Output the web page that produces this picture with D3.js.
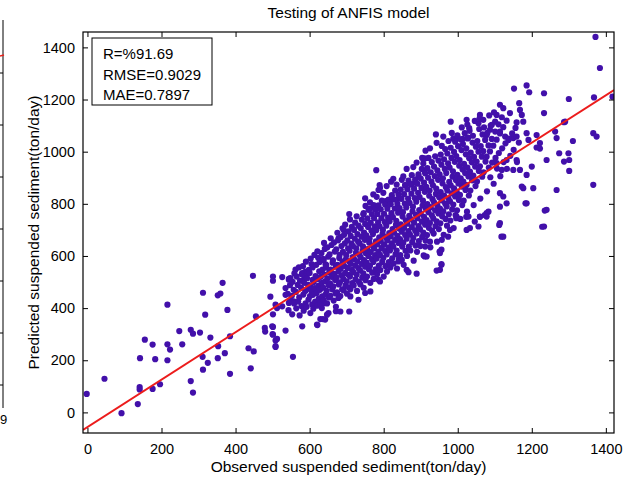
<head>
    <meta charset="utf-8">
    <style>
        body { margin: 0; background: #ffffff; }
        text { font-family: "Liberation Sans", Arial, Helvetica, sans-serif; fill: #000; }
    </style>
    <script src="https://d3js.org/d3.v7.min.js"></script>
</head>
<body>
<div id="chart"></div>
<script>

var chartTitle = "Testing of ANFIS model";
var xLabel = "Observed suspended sediment(ton/day)";
var yLabel = "Predicted suspended sediment(ton/day)";
var statLines = ["R=%91.69", "RMSE=0.9029", "MAE=0.7897"];

var xTicks = [0, 200, 400, 600, 800, 1000, 1200, 1400];
var yTicks = [0, 200, 400, 600, 800, 1000, 1200, 1400];
var xLimits = [-12, 1422];
var yLimits = [-79, 1459];

// fitted line: predicted = slope * observed + intercept
var fitSlope = 0.909;
var fitIntercept = -56;

// sparse points, lower left part of the cloud
var sparsePoints = [
    [-2,71],[46,129],[92,-3],[136,32],[141,97],[141,88],[176,90],[196,108],[142,208],[155,279],
    [176,260],[183,204],[216,261],[223,241],[216,200],[216,413],[256,261],[248,312],[279,317],[285,302],
    [304,306],[332,287],[312,459],[318,375],[352,449],[359,456],[365,497],[378,393],[311,213],[325,190],
    [312,164],[279,120],[285,76],[352,208],[353,254],[371,227],[385,292],[385,148],[441,169],[435,246],
    [449,234],[455,368],[447,524],[501,521],[501,505],[494,444],[479,324],[480,310],[501,376],[501,328],
    [508,251],[508,276],[500,300],
    [526,519],[544,509],[548,515],[535,477],[535,451],[580,534],[589,540],[584,509],[508,413],[512,400],
    [526,407],[544,420],[557,426],[499,330],[501,298],[535,314],[512,282],[508,254],[555,213],[580,330],
    [620,337],[642,356],[651,381],[671,388],[671,405]
];

// outer edge of the main cloud
var edgePoints = [
    [780,929],[904,976],[911,974],[910,927],[894,904],[820,885],[789,872],[786,853],[858,872],[876,876],
    [885,882],[750,821],[707,761],[746,764],[764,783],[773,795],[805,810],[818,815],[841,820],[689,706],
    [692,700],[678,668],[638,585],[643,568],
    [862,547],[889,532],[840,579],[849,585],[786,509],[790,502],[764,464],[750,458],[732,432],[710,445],
    [678,439],[683,387],[707,387],[638,419],[633,400],[647,375],[629,358],[636,358],[621,335],
    [956,566],[943,544],[867,538],[911,598],[952,611],[956,624],[1183,802],[1235,774],[1228,712],[1112,719],
    [1118,674],[1024,700],[1046,732],[974,674],[956,569],[952,547],[1073,757],[1078,764],[1060,750],[996,745],
    [1023,750],
    [1372,1440],[1384,1321],[1418,1211],[1368,1208],[1300,1202],[1287,1113],[1233,1224],[1233,1148],[1186,1254],[1193,1228],
    [1152,1242],[1166,1186],[1168,1160],[1173,1141],[1177,1115],[1114,1180],[1123,1167],[1105,1141],[1101,1115],[1060,1141],
    [1069,1122],[1056,1109],[1024,1122],[1031,1090],[981,1115],[941,1066],[988,1050],[1000,1052],[1014,1049],[1027,1051],
    [1087,1084],[1092,1103],[1078,1064],[1114,1077],[1128,1058],[1137,1045],[1150,1052],[1159,1058],[1186,1071],[1191,1045],
    [1213,1064],[1222,1033],[1263,1077],[1267,1052],[1290,1115],[1311,1041],[1366,1071],[1375,1058],[1366,873],[1267,853],
    [1240,777],[1233,713],[1114,726],[1123,674],[1186,802],[1240,968],[1213,1016],[1222,1012],[1274,994],[1299,994],
    [1301,968],[1287,962],[1301,926],[1204,860],[1177,860],[1173,866],[1200,943],[1186,911],[1168,930],[1159,968],
    [1150,930],[1132,968],[1119,930],[1105,956],[1114,841],[1123,828],[1132,802],[1114,789],[1083,770],[1078,751],
    [1060,751],[1056,713],[1033,707],[1029,751],[997,751],[979,700],[957,662],[951,617],[925,655],[912,636],
    [916,598]
];

// dense core of the cloud
var corePoints = [
    [543,392],[548,430],[541,455],[547,488],[544,512],
    [553,376],[558,418],[552,447],[557,470],[554,501],[559,533],
    [564,399],[569,425],[563,462],[568,489],[565,521],[562,548],
    [573,372],[578,408],[572,441],[577,478],[574,505],[579,530],[571,556],
    [584,390],[589,418],[583,452],[588,466],[585,497],[590,522],[582,561],
    [592,405],[597,433],[591,470],[596,489],[593,515],[598,547],[590,578],
    [602,381],[607,414],[601,446],[606,462],[603,481],[608,508],[600,535],[605,569],[603,590],
    [610,398],[615,425],[609,451],[614,477],[611,500],[616,523],[608,556],[613,604],
    [620,409],[625,437],[619,458],[624,486],[621,512],[626,541],[618,566],[623,593],[621,618],
    [629,420],[634,445],[628,470],[633,497],[630,520],[635,548],[627,577],[632,611],
    [638,430],[643,452],[637,478],[642,503],[639,529],[644,556],[636,589],[641,627],[639,650],
    [647,418],[652,441],[646,466],[651,489],[648,514],[653,538],[645,565],[650,597],[648,633],
    [656,447],[661,472],[655,495],[660,520],[657,548],[662,574],[654,606],[659,642],[657,668],
    [665,429],[670,456],[664,483],[669,508],[666,531],[671,559],[663,583],[668,617],[666,652],
    [674,460],[679,491],[673,517],[678,540],[675,566],[680,592],[672,625],[677,660],[675,689],
    [683,446],[688,472],[682,499],[687,526],[684,551],[689,578],[681,604],[686,638],[684,672],
    [692,468],[697,487],[691,512],[696,535],[693,562],[698,587],[690,616],[695,648],[693,681],[696,720],
    [701,455],[706,480],[700,503],[705,528],[702,554],[707,579],[699,603],[704,629],[702,660],[705,694],
    [710,472],[715,496],[709,521],[714,547],[711,570],[716,596],[708,620],[713,647],[711,677],[714,712],[709,740],
    [719,487],[724,510],[718,538],[723,563],[720,588],[725,612],[717,638],[722,666],[720,700],[723,728],
    [728,466],[733,501],[727,529],[732,553],[729,579],[734,605],[726,629],[731,655],[729,684],[732,716],[727,752],
    [737,491],[742,517],[736,545],[741,570],[738,596],[743,621],[735,648],[740,674],[738,706],[741,739],
    [746,478],[751,507],[745,533],[750,559],[747,584],[752,610],[744,637],[749,662],[747,690],[750,723],[745,760],[751,792],
    [755,521],[760,549],[754,575],[759,600],[756,626],[761,651],[753,679],[758,711],[756,744],[759,777],
    [764,497],[769,536],[763,562],[768,588],[765,615],[770,640],[762,667],[767,697],[765,727],[768,761],[763,806],
    [773,512],[778,549],[772,577],[777,603],[774,629],[779,656],[771,684],[776,714],[774,745],[777,778],[772,836],
    [782,530],[787,563],[781,590],[786,617],[783,644],[788,671],[780,699],[785,729],[783,761],[786,794],[781,827],
    [791,546],[796,577],[790,604],[795,631],[792,658],[797,685],[789,714],[794,745],[792,779],[795,812],[790,861],
    [800,521],[805,561],[799,592],[804,619],[801,645],[806,672],[798,700],[803,730],[801,762],[804,797],[799,842],
    [809,540],[814,576],[808,606],[813,633],[810,660],[815,688],[807,716],[812,747],[810,781],[813,816],[808,868],
    [818,556],[823,591],[817,621],[822,648],[819,675],[824,703],[816,733],[821,764],[819,798],[822,833],
    [827,571],[832,606],[826,636],[831,662],[828,690],[833,719],[825,749],[830,782],[828,817],[831,851],[826,896],
    [836,552],[841,588],[835,621],[840,650],[837,677],[842,705],[834,735],[839,766],[837,800],[840,836],[835,874],
    [845,603],[850,636],[844,665],[849,693],[846,721],[851,751],[843,784],[848,819],[846,855],[849,892],
    [854,566],[859,620],[853,651],[858,680],[855,708],[860,737],[852,768],[857,801],[855,837],[858,871],[853,905],
    [863,600],[868,636],[862,666],[867,695],[864,724],[869,754],[861,786],[866,820],[864,856],[867,889],[862,934],
    [872,621],[877,653],[871,682],[876,711],[873,741],[878,771],[870,804],[875,839],[873,874],[876,910],
    [881,582],[886,640],[880,669],[885,698],[882,728],[887,758],[879,789],[884,822],[882,858],[885,893],[880,941],
    [890,616],[895,657],[889,686],[894,715],[891,745],[896,776],[888,808],[893,842],[891,877],[894,913],[889,958],
    [899,638],[904,673],[898,703],[903,732],[900,762],[905,793],[897,826],[902,861],[900,897],[903,934],
    [908,602],[913,659],[907,690],[912,720],[909,750],[914,781],[906,812],[911,846],[909,881],[912,917],[907,955],[913,1004],
    [917,680],[922,708],[916,738],[921,768],[918,799],[923,831],[915,865],[920,900],[918,937],[921,976],
    [926,633],[931,697],[925,726],[930,756],[927,787],[932,818],[924,851],[929,885],[927,921],[930,960],[925,1013],
    [935,686],[940,715],[934,744],[939,775],[936,806],[941,838],[933,871],[938,906],[936,943],[939,982],
    [944,655],[949,703],[943,733],[948,763],[945,794],[950,825],[942,858],[947,892],[945,928],[948,966],[943,1034],
    [953,725],[958,752],[952,782],[957,813],[954,845],[959,878],[951,913],[956,950],[954,989],[957,1022],
    [962,681],[967,742],[961,771],[966,801],[963,832],[968,864],[960,898],[965,934],[963,971],[966,1010],[961,1058],
    [971,716],[976,760],[970,790],[975,820],[972,851],[977,884],[969,918],[974,955],[972,993],[975,1041],
    [980,736],[985,779],[979,809],[984,840],[981,871],[986,904],[978,939],[983,976],[981,1015],[984,1072],
    [989,707],[994,757],[988,797],[993,828],[990,859],[995,891],[987,925],[992,961],[990,999],[993,1038],
    [998,775],[1003,815],[997,847],[1002,878],[999,911],[1004,946],[996,983],[1001,1021],[999,1063],
    [1007,742],[1012,795],[1006,834],[1011,866],[1008,898],[1013,932],[1005,968],[1010,1006],[1008,1047],[1011,1093],
    [1016,812],[1021,853],[1015,885],[1020,918],[1017,953],[1022,990],[1014,1029],[1019,1071],
    [1025,770],[1030,832],[1024,872],[1029,905],[1026,939],[1031,975],[1023,1013],[1028,1054],[1026,1104],
    [1034,851],[1039,890],[1033,924],[1038,959],[1035,996],[1040,1035],[1032,1080],
    [1043,795],[1048,868],[1042,908],[1047,943],[1044,980],[1049,1019],[1041,1061],[1046,1118],
    [1052,886],[1057,926],[1051,962],[1056,1000],[1053,1041],[1058,1087],
    [1061,820],[1066,904],[1060,944],[1065,981],[1062,1021],[1067,1066],[1059,1128],
    [1070,921],[1075,962],[1069,1002],[1074,1045],[1071,1093],
    [1079,848],[1084,939],[1078,981],[1083,1024],[1080,1072],[1085,1139],
    [1088,902],[1093,958],[1087,1001],[1092,1049],[1089,1100],
    [1097,877],[1102,976],[1096,1023],[1101,1077],[1098,1151],
    [1106,935],[1111,995],[1105,1046],[1110,1105],
    [1115,906],[1120,1013],[1114,1070],[1119,1132],
    [1124,960],[1129,1032],[1123,1094],
    [1133,934],[1138,1050],[1132,1119],
    [1142,984],[1147,1070],[1141,1148],
    [1151,1007],[1156,1091],
    [1160,960],[1165,1035],[1159,1112]
];

var W = 634, H = 477;
var plot = { left: 83, right: 614, top: 32, bottom: 433 };

var svg = d3.select("#chart").append("svg")
    .attr("width", W)
    .attr("height", H);

var x = d3.scaleLinear().domain(xLimits).range([plot.left, plot.right]);
var y = d3.scaleLinear().domain(yLimits).range([plot.bottom, plot.top]);

// cut-off neighbour panel on the far left
var leftStub = svg.append("g");
leftStub.append("line")
    .attr("x1", 3).attr("x2", 3).attr("y1", 20).attr("y2", 408)
    .attr("stroke", "#000").attr("stroke-width", 1);
[73, 125, 177, 229, 281, 333, 385].forEach(function(t) {
    leftStub.append("line")
        .attr("x1", 0).attr("x2", 3).attr("y1", t).attr("y2", t)
        .attr("stroke", "#000");
});
leftStub.append("line")
    .attr("x1", 0).attr("x2", 4).attr("y1", 56).attr("y2", 55)
    .attr("stroke", "#e8221c").attr("stroke-width", 1.5);
leftStub.append("text")
    .attr("x", 0).attr("y", 424)
    .attr("font-size", 13)
    .text("9");

svg.append("clipPath").attr("id", "plotClip")
    .append("rect")
    .attr("x", plot.left).attr("y", plot.top)
    .attr("width", plot.right - plot.left)
    .attr("height", plot.bottom - plot.top);

var allPoints = sparsePoints.concat(edgePoints, corePoints);

svg.append("g")
    .attr("clip-path", "url(#plotClip)")
    .selectAll("circle")
    .data(allPoints)
    .enter()
    .append("circle")
    .attr("cx", d => x(d[0]))
    .attr("cy", d => y(d[1]))
    .attr("r", 3.1)
    .attr("fill", "#4210aa");

var fitLine = d3.line()
    .x(d => x(d))
    .y(d => y(fitSlope * d + fitIntercept));

svg.append("path")
    .datum(xLimits)
    .attr("clip-path", "url(#plotClip)")
    .attr("d", fitLine)
    .attr("fill", "none")
    .attr("stroke", "#ec1c1c")
    .attr("stroke-width", 2);

// axes, ticks pointing inward on all four sides
var fmt = d3.format("d");
var axB = svg.append("g")
    .attr("transform", `translate(0,${plot.bottom})`)
    .call(d3.axisBottom(x).tickValues(xTicks).tickFormat(fmt).tickSizeInner(-5).tickSizeOuter(0).tickPadding(11));
var axT = svg.append("g")
    .attr("transform", `translate(0,${plot.top})`)
    .call(d3.axisTop(x).tickValues(xTicks).tickSizeInner(-5).tickSizeOuter(0).tickFormat(""));
var axL = svg.append("g")
    .attr("transform", `translate(${plot.left},0)`)
    .call(d3.axisLeft(y).tickValues(yTicks).tickFormat(fmt).tickSizeInner(-5).tickSizeOuter(0).tickPadding(8));
var axR = svg.append("g")
    .attr("transform", `translate(${plot.right},0)`)
    .call(d3.axisRight(y).tickValues(yTicks).tickSizeInner(-5).tickSizeOuter(0).tickFormat(""));

[axB, axT, axL, axR].forEach(function(a) {
    a.select(".domain").remove();
    a.selectAll("line").attr("stroke", "#000");
    a.selectAll("text").attr("font-size", 14.5).attr("font-family", null).attr("fill", "#000");
});

svg.append("rect")
    .attr("x", plot.left).attr("y", plot.top)
    .attr("width", plot.right - plot.left)
    .attr("height", plot.bottom - plot.top)
    .attr("fill", "none")
    .attr("stroke", "#000")
    .attr("stroke-width", 1.2);

// stats box
var box = svg.append("g");
box.append("rect")
    .attr("x", 92).attr("y", 38)
    .attr("width", 120).attr("height", 67)
    .attr("fill", "#fff")
    .attr("stroke", "#000");
box.selectAll("text")
    .data(statLines)
    .enter()
    .append("text")
    .attr("x", 103)
    .attr("y", (d, i) => 59 + i * 20.5)
    .attr("font-size", 15)
    .text(d => d);

svg.append("text")
    .attr("x", (plot.left + plot.right) / 2)
    .attr("y", 18)
    .attr("text-anchor", "middle")
    .attr("font-size", 15.5)
    .text(chartTitle);

svg.append("text")
    .attr("x", (plot.left + plot.right) / 2)
    .attr("y", 472)
    .attr("text-anchor", "middle")
    .attr("font-size", 15.5)
    .text(xLabel);

svg.append("text")
    .attr("transform", `translate(39,${(plot.top + plot.bottom) / 2}) rotate(-90)`)
    .attr("text-anchor", "middle")
    .attr("font-size", 15.5)
    .text(yLabel);

</script>
</body>
